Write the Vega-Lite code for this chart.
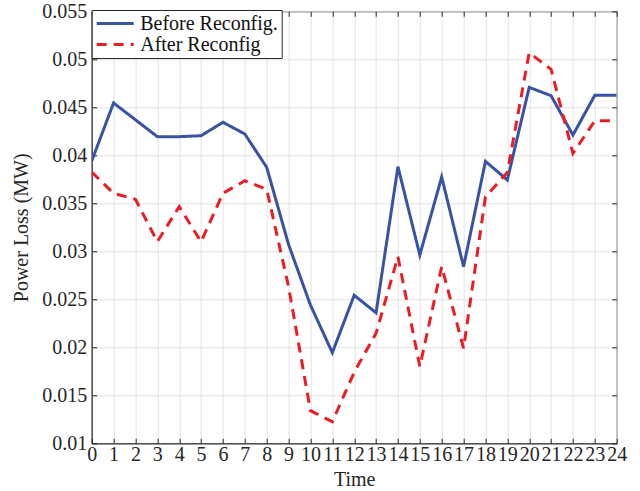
{
  "$schema": "https://vega.github.io/schema/vega-lite/v6.json",
  "width": 525,
  "height": 432,
  "autosize": "none",
  "padding": {"left": 91.7, "top": 11.3, "right": 23.4, "bottom": 47.7},
  "background": "white",
  "data": {
    "values": [
      {"t": 0, "series": "Before Reconfig.", "v": 0.0394},
      {"t": 1, "series": "Before Reconfig.", "v": 0.04545},
      {"t": 2, "series": "Before Reconfig.", "v": 0.0437},
      {"t": 3, "series": "Before Reconfig.", "v": 0.04194},
      {"t": 4, "series": "Before Reconfig.", "v": 0.04194},
      {"t": 5, "series": "Before Reconfig.", "v": 0.04204},
      {"t": 6, "series": "Before Reconfig.", "v": 0.04344},
      {"t": 7, "series": "Before Reconfig.", "v": 0.04222},
      {"t": 8, "series": "Before Reconfig.", "v": 0.03875},
      {"t": 9, "series": "Before Reconfig.", "v": 0.0307},
      {"t": 10, "series": "Before Reconfig.", "v": 0.0244},
      {"t": 11, "series": "Before Reconfig.", "v": 0.01944},
      {"t": 12, "series": "Before Reconfig.", "v": 0.02542},
      {"t": 13, "series": "Before Reconfig.", "v": 0.0236},
      {"t": 14, "series": "Before Reconfig.", "v": 0.03881},
      {"t": 15, "series": "Before Reconfig.", "v": 0.02961},
      {"t": 16, "series": "Before Reconfig.", "v": 0.03774},
      {"t": 17, "series": "Before Reconfig.", "v": 0.0284},
      {"t": 18, "series": "Before Reconfig.", "v": 0.03937},
      {"t": 19, "series": "Before Reconfig.", "v": 0.03743},
      {"t": 20, "series": "Before Reconfig.", "v": 0.04708},
      {"t": 21, "series": "Before Reconfig.", "v": 0.04621},
      {"t": 22, "series": "Before Reconfig.", "v": 0.04211},
      {"t": 23, "series": "Before Reconfig.", "v": 0.04625},
      {"t": 24, "series": "Before Reconfig.", "v": 0.04625},
      {"t": 0, "series": "After Reconfig", "v": 0.03826},
      {"t": 1, "series": "After Reconfig", "v": 0.03604},
      {"t": 2, "series": "After Reconfig", "v": 0.03542},
      {"t": 3, "series": "After Reconfig", "v": 0.031},
      {"t": 4, "series": "After Reconfig", "v": 0.03465},
      {"t": 5, "series": "After Reconfig", "v": 0.031},
      {"t": 6, "series": "After Reconfig", "v": 0.03604},
      {"t": 7, "series": "After Reconfig", "v": 0.03735},
      {"t": 8, "series": "After Reconfig", "v": 0.03646},
      {"t": 9, "series": "After Reconfig", "v": 0.0263},
      {"t": 10, "series": "After Reconfig", "v": 0.0134},
      {"t": 11, "series": "After Reconfig", "v": 0.01225},
      {"t": 12, "series": "After Reconfig", "v": 0.0174},
      {"t": 13, "series": "After Reconfig", "v": 0.02146},
      {"t": 14, "series": "After Reconfig", "v": 0.02944},
      {"t": 15, "series": "After Reconfig", "v": 0.018},
      {"t": 16, "series": "After Reconfig", "v": 0.0284},
      {"t": 17, "series": "After Reconfig", "v": 0.0199},
      {"t": 18, "series": "After Reconfig", "v": 0.03569},
      {"t": 19, "series": "After Reconfig", "v": 0.0382},
      {"t": 20, "series": "After Reconfig", "v": 0.05069},
      {"t": 21, "series": "After Reconfig", "v": 0.04896},
      {"t": 22, "series": "After Reconfig", "v": 0.0402},
      {"t": 23, "series": "After Reconfig", "v": 0.0436},
      {"t": 24, "series": "After Reconfig", "v": 0.0436}
    ]
  },
  "config": {
    "font": "Liberation Serif",
    "view": {"stroke": "#262626", "strokeWidth": 1},
    "axis": {
      "domainColor": "#262626",
      "tickColor": "#262626",
      "tickSize": -5,
      "labelColor": "#262626",
      "titleColor": "#262626",
      "labelFont": "Liberation Serif",
      "titleFont": "Liberation Serif",
      "labelFontSize": 20,
      "titleFontSize": 20,
      "titleFontWeight": "normal",
      "gridColor": "#e3e3e3",
      "gridWidth": 1,
      "labelOverlap": false,
      "labelFlush": false
    },
    "legend": {
      "labelFont": "Liberation Serif",
      "labelFontSize": 20,
      "labelColor": "#111111"
    }
  },
  "layer": [
    {
      "mark": {"type": "line", "strokeWidth": 3, "clip": true},
      "encoding": {
        "x": {
          "field": "t", "type": "quantitative",
          "scale": {"domain": [0, 24], "nice": false, "zero": false},
          "axis": {
            "orient": "bottom", "title": "Time", "grid": true,
            "values": [0,1,2,3,4,5,6,7,8,9,10,11,12,13,14,15,16,17,18,19,20,21,22,23,24],
            "labelPadding": 6, "titlePadding": 5
          }
        },
        "y": {
          "field": "v", "type": "quantitative",
          "scale": {"domain": [0.01, 0.055], "nice": false, "zero": false},
          "axis": {
            "orient": "left", "title": "Power Loss (MW)", "grid": true,
            "values": [0.01, 0.015, 0.02, 0.025, 0.03, 0.035, 0.04, 0.045, 0.05, 0.055],
            "format": ".3~f", "labelPadding": 10, "titlePadding": 10
          }
        },
        "color": {
          "field": "series", "type": "nominal",
          "scale": {"domain": ["Before Reconfig.", "After Reconfig"], "range": ["#3953a4", "#ed1c24"]},
          "legend": {
            "title": null, "orient": "none", "legendX": 0, "legendY": -1.3,
            "symbolType": "stroke", "symbolSize": 1369, "symbolStrokeWidth": 3,
            "fillColor": "white", "strokeColor": "#262626", "padding": 3.5,
            "rowPadding": 1, "clipHeight": 20, "labelOffset": 5, "symbolOffset": 0
          }
        },
        "strokeDash": {
          "field": "series", "type": "nominal",
          "scale": {"domain": ["Before Reconfig.", "After Reconfig"], "range": [[1, 0], [10, 7]]},
          "legend": {
            "title": null, "orient": "none", "legendX": 0, "legendY": -1.3,
            "symbolType": "stroke", "symbolSize": 1369, "symbolStrokeWidth": 3,
            "fillColor": "white", "strokeColor": "#262626", "padding": 3.5,
            "rowPadding": 1, "clipHeight": 20, "labelOffset": 5, "symbolOffset": 0
          }
        }
      }
    },
    {
      "mark": {"type": "line", "opacity": 0},
      "encoding": {
        "x": {
          "field": "t", "type": "quantitative",
          "axis": {
            "orient": "top", "title": null, "labels": false, "grid": false, "domain": false,
            "values": [0,1,2,3,4,5,6,7,8,9,10,11,12,13,14,15,16,17,18,19,20,21,22,23,24]
          }
        },
        "y": {
          "field": "v", "type": "quantitative",
          "axis": {
            "orient": "right", "title": null, "labels": false, "grid": false, "domain": false,
            "values": [0.01, 0.015, 0.02, 0.025, 0.03, 0.035, 0.04, 0.045, 0.05, 0.055]
          }
        },
        "detail": {"field": "series"}
      }
    }
  ],
  "resolve": {"axis": {"x": "independent", "y": "independent"}}
}
